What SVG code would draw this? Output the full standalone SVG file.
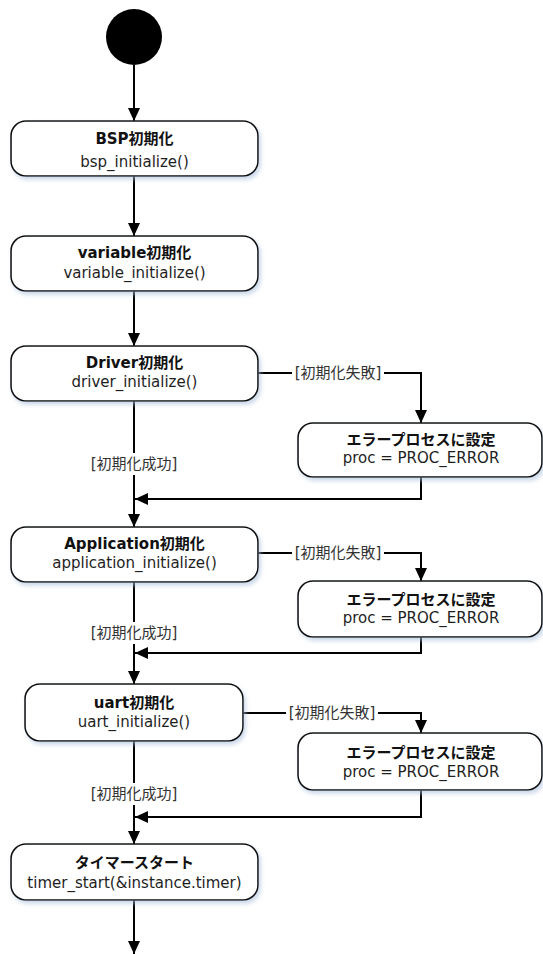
<svg xmlns="http://www.w3.org/2000/svg" width="543" height="954" viewBox="0 0 543 954">
<style>
text{font-family:"DejaVu Sans","Noto Sans CJK JP",sans-serif;font-size:15px;fill:#1e1e1e;text-anchor:middle}
.t{font-weight:bold;fill:#111}
.lb{fill:#333}
.box{fill:#fff;stroke:#111;stroke-width:1.6;filter:url(#sh)}
.ln{fill:none;stroke:#000;stroke-width:2}
.bg{fill:#fff}
</style>
<defs>
<filter id="sh" x="-10%" y="-20%" width="125%" height="150%">
<feDropShadow dx="2" dy="3" stdDeviation="2" flood-color="#a9c0dc" flood-opacity="0.6"/>
</filter>
<marker id="ah" markerUnits="userSpaceOnUse" markerWidth="14" markerHeight="14" viewBox="0 0 14 14" refX="13" refY="7" orient="auto">
<path d="M0,1 L13,7 L0,13 Z" fill="#000"/>
</marker>
</defs>

<g id="start"><circle cx="134" cy="37" r="28" fill="#000"/></g>

<g id="connectors">
<path class="ln" d="M134,65 V121" marker-end="url(#ah)"/>
<path class="ln" d="M134,176 V236" marker-end="url(#ah)"/>
<path class="ln" d="M134,291 V346" marker-end="url(#ah)"/>
<path class="ln" d="M134,401 V527" marker-end="url(#ah)"/>
<path class="ln" d="M134,582 V684" marker-end="url(#ah)"/>
<path class="ln" d="M134,741 V844" marker-end="url(#ah)"/>
<path class="ln" d="M134,900 V954" marker-end="url(#ah)"/>
<path class="ln" d="M258,373 H421 V423" marker-end="url(#ah)"/>
<path class="ln" d="M258,553 H421 V581" marker-end="url(#ah)"/>
<path class="ln" d="M243,713 H421 V733" marker-end="url(#ah)"/>
<path class="ln" d="M421,477 V499 H135" marker-end="url(#ah)"/>
<path class="ln" d="M421,637 V653 H135" marker-end="url(#ah)"/>
<path class="ln" d="M421,790 V817 H135" marker-end="url(#ah)"/>
<rect class="bg" x="88" y="453" width="92" height="22"/>
<text class="lb" x="134" y="469">[初期化成功]</text>
<rect class="bg" x="88" y="622" width="92" height="22"/>
<text class="lb" x="134" y="638">[初期化成功]</text>
<rect class="bg" x="88" y="783" width="92" height="22"/>
<text class="lb" x="134" y="799">[初期化成功]</text>
<rect class="bg" x="292" y="362" width="92" height="22"/>
<text class="lb" x="338" y="378">[初期化失敗]</text>
<rect class="bg" x="292" y="542" width="92" height="22"/>
<text class="lb" x="338" y="558">[初期化失敗]</text>
<rect class="bg" x="286" y="702" width="92" height="22"/>
<text class="lb" x="332" y="718">[初期化失敗]</text>
</g>

<g id="bsp"><rect class="box" x="11" y="121" width="247" height="55" rx="15"/>
<text class="t" x="134.5" y="144">BSP初期化</text><text x="134.5" y="167">bsp_initialize()</text></g>

<g id="variable"><rect class="box" x="11" y="236" width="247" height="55" rx="15"/>
<text class="t" x="134.5" y="258">variable初期化</text><text x="134.5" y="278">variable_initialize()</text></g>

<g id="driver"><rect class="box" x="11" y="346" width="247" height="55" rx="15"/>
<text class="t" x="134.5" y="368">Driver初期化</text><text x="134.5" y="387">driver_initialize()</text></g>

<g id="err1"><rect class="box" x="298" y="423" width="244" height="54" rx="15"/>
<text class="t" x="421" y="445">エラープロセスに設定</text><text x="421" y="463">proc =  PROC_ERROR</text></g>

<g id="application"><rect class="box" x="11" y="527" width="247" height="55" rx="15"/>
<text class="t" x="134.5" y="549">Application初期化</text><text x="134.5" y="568">application_initialize()</text></g>

<g id="err2"><rect class="box" x="298" y="581" width="244" height="56" rx="15"/>
<text class="t" x="421" y="605">エラープロセスに設定</text><text x="421" y="623">proc =  PROC_ERROR</text></g>

<g id="uart"><rect class="box" x="25" y="684" width="218" height="57" rx="15"/>
<text class="t" x="134" y="708">uart初期化</text><text x="134" y="727">uart_initialize()</text></g>

<g id="err3"><rect class="box" x="298" y="733" width="244" height="57" rx="15"/>
<text class="t" x="421" y="758">エラープロセスに設定</text><text x="421" y="777">proc =  PROC_ERROR</text></g>

<g id="timer"><rect class="box" x="11" y="844" width="247" height="56" rx="15"/>
<text class="t" x="134.5" y="868">タイマースタート</text><text x="134.5" y="888">timer_start(&amp;instance.timer)</text></g>
</svg>
